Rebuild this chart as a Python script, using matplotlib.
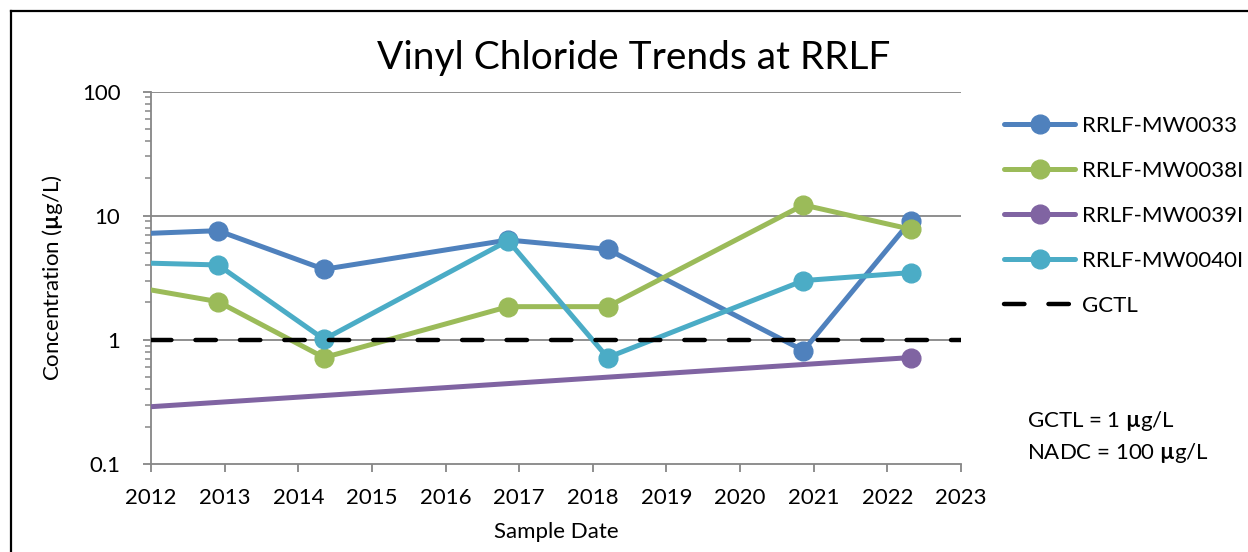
import matplotlib
matplotlib.use("Agg")
import matplotlib.pyplot as plt
from matplotlib.lines import Line2D
import numpy as np

plt.rcParams['font.family'] = ['Lato', 'DejaVu Sans']
plt.rcParams['mathtext.fontset'] = 'custom'
plt.rcParams['mathtext.rm'] = 'Lato'
plt.rcParams['mathtext.bf'] = 'Lato:bold'

# sample dates as decimal years (first one lies before the axis start)
mw0033_dates = [2011.0, 2012.91, 2014.35, 2016.85, 2018.20, 2020.86, 2022.32]
mw0033_vals = [6.84, 7.57, 3.70, 6.37, 5.36, 0.82, 9.12]

mw0038_dates = [2011.0, 2012.91, 2014.35, 2016.85, 2018.20, 2020.86, 2022.32]
mw0038_vals = [3.2, 2.03, 0.72, 1.85, 1.85, 12.2, 7.77]

mw0039_dates = [2011.0, 2022.32]
mw0039_vals = [0.265, 0.72]

mw0040_dates = [2011.0, 2012.91, 2014.35, 2016.85, 2018.20, 2020.86, 2022.32]
mw0040_vals = [4.29, 4.01, 1.01, 6.29, 0.72, 3.0, 3.48]

gctl = 1.0
years = list(range(2012, 2024))

series = [
    ("RRLF-MW0033", mw0033_dates, mw0033_vals, "#4F81BD"),
    ("RRLF-MW0038I", mw0038_dates, mw0038_vals, "#9BBB59"),
    ("RRLF-MW0039I", mw0039_dates, mw0039_vals, "#8064A2"),
    ("RRLF-MW0040I", mw0040_dates, mw0040_vals, "#4BACC6"),
]

fig = plt.figure(figsize=(12.48, 5.52), dpi=100)
ax = fig.add_axes([151/1248, 1 - 464/552, (961-151)/1248, (464-91.5)/552])

grey = "#868686"
for v in [1, 10, 100]:
    ax.axhline(v, color=grey, lw=1.3, zorder=1)

handles = []
for name, d, v, c in series:
    ax.plot(d, v, color=c, lw=3.6, marker='o', ms=13.5, mec=c, zorder=3,
            solid_capstyle='round')
    handles.append(Line2D([], [], color=c, lw=3.6, marker='o', ms=13.5,
                          label=name, solid_capstyle='round'))

ax.plot([years[0], years[-1]], [gctl, gctl], color='black', lw=3.2,
        dashes=(4.6, 5.4), dash_capstyle='round', zorder=4)
handles.append(Line2D([], [], color='black', lw=3.2, dashes=(4.6, 5.4),
                      dash_capstyle='round', label='GCTL'))

ax.set_yscale('log')
ax.set_ylim(0.1, 100)
ax.set_xlim(years[0], years[-1])
ax.set_xticks(years)
ax.set_xticklabels([str(y) for y in years])
ax.set_yticks([0.1, 1, 10, 100])
ax.set_yticklabels(['0.1', '1', '10', '100'])

for s in ['top', 'right']:
    ax.spines[s].set_visible(False)
for s in ['left', 'bottom']:
    ax.spines[s].set_color(grey)
    ax.spines[s].set_linewidth(1.3)
ax.tick_params(axis='both', which='major', direction='out', length=6,
               width=1.3, color=grey, labelsize=16)
ax.tick_params(axis='x', which='major', pad=11)
ax.tick_params(axis='y', which='minor', direction='out', length=4,
               width=1.1, color=grey)
ax.tick_params(axis='y', which='major', pad=16)

ax.set_xlabel("Sample Date", fontsize=16, labelpad=10)
ax.set_ylabel(r"Concentration ($\mathbf{µ}$g/L)", fontsize=16, labelpad=12)

fig.text(634/1248, 1 - 58/552, "Vinyl Chloride Trends at RRLF", fontsize=28,
         ha='center', va='center')

fig.legend(handles=handles, loc='upper left',
           bbox_to_anchor=(1004/1248, 1 - 116/552), frameon=False,
           fontsize=16, labelspacing=1.12, handlelength=3.2,
           handletextpad=0.3, borderaxespad=0, borderpad=0)

fig.text(1027/1248, 1 - 421/552, r"GCTL = 1 $\mathbf{µ}$g/L", fontsize=16,
         ha='left', va='center')
fig.text(1027/1248, 1 - 453/552, r"NADC = 100 $\mathbf{µ}$g/L", fontsize=16,
         ha='left', va='center')

# outer chart border
fig.add_artist(Line2D([11/1248, 11/1248], [0, 1 - 11/552], color='black',
                      lw=1.6, transform=fig.transFigure))
fig.add_artist(Line2D([11/1248, 1], [1 - 11/552, 1 - 11/552], color='black',
                      lw=1.6, transform=fig.transFigure))

fig.savefig("out.png", dpi=100)
